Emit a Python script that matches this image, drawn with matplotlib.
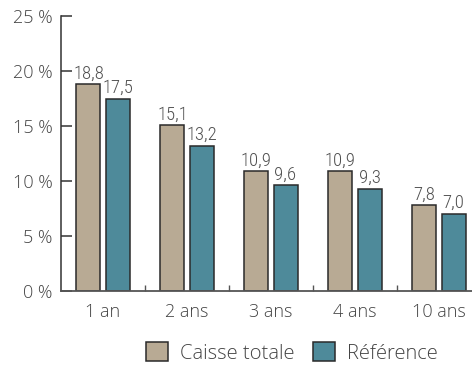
import matplotlib
matplotlib.use("Agg")
import matplotlib.pyplot as plt
from matplotlib import font_manager
from matplotlib.patches import Patch
import numpy as np

categories = ["1 an", "2 ans", "3 ans", "4 ans", "10 ans"]
caisse_totale = [18.8, 15.1, 10.9, 10.9, 7.8]
reference = [17.5, 13.2, 9.6, 9.3, 7.0]
series_names = ["Caisse totale", "Référence"]
y_ticks = [0, 5, 10, 15, 20, 25]

tan = "#b8aa94"
teal = "#4e8a9a"
edge = "#2a2a2a"
text_col = "#444444"

plt.rcParams["font.family"] = ["Open Sans", "DejaVu Sans"]

# pick a narrow face for the value labels, if one is installed
installed = {(f.name, f.stretch) for f in font_manager.fontManager.ttflist}
names = {n for n, _ in installed}
value_font = {"family": ["Open Sans", "DejaVu Sans"]}
for cand in ("Liberation Sans Narrow", "Roboto Condensed", "Open Sans Condensed",
             "DejaVu Sans Condensed"):
    if cand in names:
        value_font = {"family": [cand, "DejaVu Sans"]}
        break
else:
    for n, st in installed:
        if n in ("DejaVu Sans", "Roboto", "Open Sans", "Noto Sans") and st == "condensed":
            value_font = {"family": [n], "stretch": "condensed"}
            break

fig = plt.figure(figsize=(4.72, 3.65), dpi=100)
ax = fig.add_axes([61 / 472, 1 - 290.7 / 365, 420 / 472, (290.7 - 16.3) / 365])

x = np.arange(len(categories))
w = 0.286
off = 0.173
b1 = ax.bar(x - off, caisse_totale, w, color=tan, edgecolor=edge, linewidth=1.1)
b2 = ax.bar(x + off, reference, w, color=teal, edgecolor=edge, linewidth=1.1)

for bars, vals in ((b1, caisse_totale), (b2, reference)):
    for rect, v in zip(bars, vals):
        ax.text(rect.get_x() + rect.get_width() / 2, v + 0.15,
                f"{v:.1f}".replace(".", ","), ha="center", va="bottom",
                fontsize=13.5, fontweight="light", color="#505050", **value_font)

ax.set_xlim(-0.5, len(categories) - 0.5)
ax.set_ylim(0, 25)
ax.set_yticks(y_ticks)
ax.set_yticklabels([f"{t} %" for t in y_ticks])
ax.set_xticks(x)
ax.set_xticklabels(categories)
ax.set_xticks(np.arange(len(categories) - 1) + 0.5, minor=True)

ax.tick_params(axis="y", direction="in", length=8, width=1.1, color="#333333",
               labelsize=13, labelcolor=text_col, pad=6)
ax.tick_params(axis="x", which="major", length=0, labelsize=13,
               labelcolor=text_col, pad=9)
ax.tick_params(axis="x", which="minor", direction="in", length=4, width=1.0,
               color="#555555")
for lbl in ax.get_xticklabels() + ax.get_yticklabels():
    lbl.set_fontweight("light")

for s in ("top", "right"):
    ax.spines[s].set_visible(False)
ax.spines["left"].set_color("#333333")
ax.spines["left"].set_linewidth(1.1)
ax.spines["bottom"].set_color("#555555")
ax.spines["bottom"].set_linewidth(1.3)

handles = [Patch(facecolor=tan, edgecolor=edge, linewidth=1.1),
           Patch(facecolor=teal, edgecolor=edge, linewidth=1.1)]
leg = fig.legend(handles, series_names, loc="upper left",
                 bbox_to_anchor=(146 / 472, 1 - 342 / 365), ncol=2, frameon=False,
                 fontsize=14.5, handlelength=1.1, handleheight=1.1,
                 handletextpad=0.6, columnspacing=0.9, borderpad=0, borderaxespad=0,
                 labelcolor=text_col)
for t in leg.get_texts():
    t.set_fontweight("light")

fig.savefig("out.png", dpi=100)
